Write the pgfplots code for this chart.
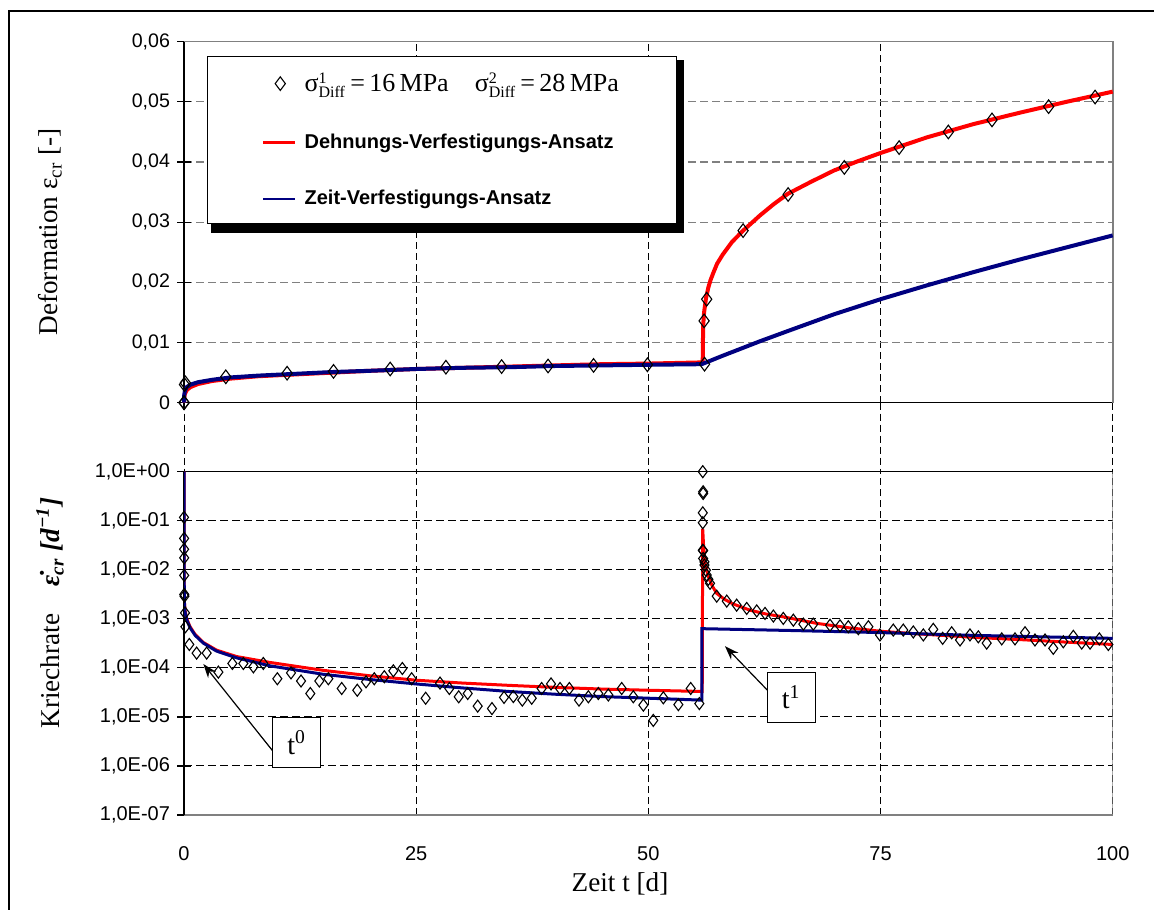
\documentclass[border=0pt]{standalone}
\usepackage{fontspec}
\setmainfont{Liberation Serif}
\newfontfamily\arial{Liberation Sans}
\usepackage{pgfplots}
\pgfplotsset{compat=1.18}
\usetikzlibrary{arrows.meta}

\definecolor{cred}{RGB}{255,0,0}
\definecolor{cblue}{RGB}{0,0,128}

\tikzset{gridx/.style={black, line width=0.5pt, dash pattern=on 3.5pt off 2pt}}
\pgfplotsset{
  mydiam/.style={only marks, mark=diamond, mark size=3.4pt, mark options={black, line width=0.55pt, fill=none, solid}},
  lineleg/.style={legend image code/.code={\draw[##1, line width=1.4pt] (0pt,0pt) -- (16pt,0pt);}},
}

\begin{document}
\begin{tikzpicture}
\useasboundingbox (0,0) rectangle (577pt,454.5pt);
\draw[line width=1.1pt] (4.35pt,-5pt) -- (4.35pt,449.15pt) -- (590pt,449.15pt);

% ---------------- top axis ----------------
\begin{axis}[
  at={(92pt,253.15pt)}, anchor=south west,
  scale only axis, width=464.35pt, height=180.5pt,
  xmin=0, xmax=100, ymin=0, ymax=0.06,
  clip=false,
  scaled y ticks=false,
  axis lines*=left,
  axis line style={black, line width=0.8pt},
  xtick={0,25,50,75,100}, xticklabels={},
  ytick={0,0.01,0.02,0.03,0.04,0.05,0.06},
  yticklabels={0,{0,01},{0,02},{0,03},{0,04},{0,05},{0,06}},
  yticklabel style={font=\arial\fontsize{9.8}{11}\selectfont},
  tick align=center, major tick length=7pt,
  tick style={black, line width=0.6pt},
  grid=major,
  x grid style={black, line width=0.5pt, dash pattern=on 3.5pt off 2pt},
  y grid style={gray, line width=0.6pt, dash pattern=on 4pt off 2pt},
  every axis y label/.style={at={(axis description cs:-0.1443,0.473)}, rotate=90, anchor=center},
  ylabel={\fontsize{13.6}{16}\selectfont Deformation ε\textsubscript{cr} [-]},
  legend style={at={(axis description cs:0.0251,0.9604)}, anchor=north west,
    draw=black, line width=0.5pt, fill=white,
    inner xsep=27pt, inner ysep=6pt, row sep=15.5pt, column sep=2pt,
    font=\arial\bfseries\fontsize{10}{12}\selectfont},
  legend cell align=left,
]
\draw[gray, line width=0.8pt] (rel axis cs:0,1) -- (rel axis cs:1,1) -- (rel axis cs:1,0);
\pgfplotsinvokeforeach{0,25,50,75,100}{\draw[gridx] (axis cs:#1,0) -- (axis cs:#1,-0.01147);}
% legend shadow
\fill[black] (axis description cs:0.0291,0.9493) rectangle (axis description cs:0.5384,0.4701);

\addplot[mydiam] coordinates {
(0,0) (0.02,0) (0.05,0.0030) (0.15,0.0033) (4.5,0.0043) (11.1,0.0049) (16.1,0.0052)
(22.2,0.0056) (28.2,0.0059) (34.2,0.0060) (39.2,0.0061) (44.1,0.0062) (49.9,0.0063)
(56.05,0.0064) (56.0,0.0136) (56.28,0.0172) (60.2,0.0286) (65.05,0.0346) (71.1,0.0391)
(77.0,0.0424) (82.3,0.0450) (87.0,0.0470) (93.1,0.0492) (98.1,0.0508)
};
\addlegendentry{\rmfamily\mdseries\fontsize{13}{15}\selectfont σ$^{\mbox{\fontsize{8}{8}\selectfont 1}}_{\mbox{\fontsize{8}{8}\selectfont Diff}}$\,=\,16\,MPa\quad σ$^{\mbox{\fontsize{8}{8}\selectfont 2}}_{\mbox{\fontsize{8}{8}\selectfont Diff}}$\,=\,28\,MPa}

\addplot[cred, line width=2pt, lineleg] coordinates {
(0,0) (0.02,0.0008) (0.1,0.0015) (0.3,0.0021) (0.7,0.0026) (1.5,0.0031) (3,0.0036)
(5,0.0040) (8,0.0044) (12,0.0047) (16,0.0050) (20,0.0053) (25,0.0056) (30,0.0058)
(35,0.0060) (40,0.0062) (45,0.0064) (50,0.0065) (55.85,0.0067) (55.9,0.0128)
(56.0,0.0150) (56.2,0.0173) (56.45,0.0191) (56.7,0.0204) (57.0,0.0216) (57.4,0.0231)
(58,0.0246) (59,0.0267) (60.2,0.0286) (61,0.0297) (62,0.0311) (63.5,0.0330)
(65,0.0347) (67.5,0.0367) (70,0.0386) (72.5,0.0401) (75,0.0415) (80,0.0441)
(85,0.0463) (90,0.0482) (95,0.0500) (100,0.0517)
};
\addlegendentry{Dehnungs-Verfestigungs-Ansatz}

\addplot[cblue, line width=2pt, lineleg] coordinates {
(0,0) (0.02,0.0012) (0.1,0.0020) (0.3,0.0026) (0.7,0.0030) (1.5,0.0034) (3,0.0038)
(5,0.0042) (8,0.0045) (12,0.0048) (16,0.0051) (20,0.0053) (25,0.0056) (30,0.0058)
(35,0.0059) (40,0.0061) (45,0.0062) (50,0.0063) (55.75,0.0064) (58,0.0078)
(60,0.0090) (62,0.0102) (65,0.0119) (70,0.0147) (75,0.0172) (80,0.0195)
(85,0.0217) (90,0.0238) (95,0.0258) (100,0.0278)
};
\addlegendentry{Zeit-Verfestigungs-Ansatz}
\end{axis}

% ---------------- bottom axis ----------------
\begin{axis}[
  at={(92pt,47pt)}, anchor=south west,
  scale only axis, width=464.35pt, height=171.65pt,
  xmin=0, xmax=100, ymode=log, ymin=1e-7, ymax=1,
  axis lines*=left,
  x axis line style={gray, line width=0.8pt},
  y axis line style={black, line width=0.8pt},
  xtick={0,25,50,75,100},
  xticklabels={0,25,50,75,100},
  xtick style={draw=none},
  xticklabel style={font=\arial\fontsize{10}{12}\selectfont, anchor=center, yshift=-16pt},
  ytick={1,1e-1,1e-2,1e-3,1e-4,1e-5,1e-6,1e-7},
  yticklabels={{1,0E+00},{1,0E-01},{1,0E-02},{1,0E-03},{1,0E-04},{1,0E-05},{1,0E-06},{1,0E-07}},
  yticklabel style={font=\arial\fontsize{10}{12}\selectfont},
  minor ytick={},
  tick align=center, major tick length=7pt,
  ytick style={black, line width=0.6pt},
  grid=major,
  x grid style={black, line width=0.5pt, dash pattern=on 3.5pt off 2pt},
  y grid style={black, line width=0.5pt, dash pattern=on 4pt off 2pt},
  every axis y label/.style={at={(axis description cs:-0.1443,0.588)}, rotate=90, anchor=center},
  ylabel={\fontsize{13.6}{16}\selectfont Kriechrate\quad\textbf{\textit{\.{ε}\textsubscript{cr} [d\textsuperscript{−1}]}}},
  every axis x label/.style={at={(axis description cs:0.4695,-0.201)}, anchor=center},
  xlabel={\fontsize{13.6}{16}\selectfont Zeit t [d]},
]
\draw[black, line width=0.8pt] (rel axis cs:0,1) -- (rel axis cs:1,1);
\draw[gray, line width=0.8pt] (rel axis cs:1,0) -- (rel axis cs:1,1);

\addplot[cred, line width=1.5pt] coordinates {
(0,1) (0.03,2.4e-3) (0.11,1.5e-3) (0.3,1.0e-3) (0.65,6.9e-4) (1.2,4.8e-4) (2.08,3.3e-4)
(3.5,2.3e-4) (5.67,1.7e-4) (9.26,1.29e-4) (15,8.9e-5) (20,6.9e-5) (25,5.6e-5)
(30,4.9e-5) (35,4.4e-5) (40,4.0e-5) (45,3.7e-5) (50,3.5e-5) (55.8,3.3e-5)
(55.85,0.069) (55.95,0.03) (56.1,0.014) (56.3,9.5e-3) (56.46,7.2e-3) (56.9,4.6e-3)
(57.36,3.3e-3) (58.2,2.5e-3) (59.15,2.0e-3) (60.95,1.5e-3) (62.7,1.25e-3)
(64.5,1.1e-3) (68.1,8.1e-4) (71.5,6.6e-4) (74.9,5.6e-4) (78.5,5.0e-4) (82.5,4.5e-4)
(86,4.1e-4) (89.7,3.8e-4) (95,3.35e-4) (100,3.0e-4)
};
\addplot[cblue, line width=1.5pt] coordinates {
(0,1) (0.03,2.4e-3) (0.11,1.4e-3) (0.3,9.5e-4) (0.65,6.6e-4) (1.2,4.6e-4) (2.08,3.2e-4)
(3.5,2.2e-4) (5.67,1.6e-4) (9.26,1.1e-4) (15,7.4e-5) (20,5.8e-5) (25,4.7e-5)
(30,3.9e-5) (35,3.3e-5) (40,2.9e-5) (45,2.6e-5) (50.2,2.4e-5) (55.75,2.2e-5)
(55.76,6.3e-4) (65,5.8e-4) (74.9,5.25e-4) (85,4.6e-4) (100,4.0e-4)
};
\addplot[mydiam, mark size=3pt] coordinates {
(0.0,0.117) (0.01,0.0437) (0.01,0.0262) (0.02,0.0175) (0.02,7.7e-3) (0.03,3.15e-3)
(0.05,2.9e-3) (0.11,1.32e-3) (0.15,6.9e-4) (0.57,3.0e-4) (1.36,2.0e-4) (2.44,2.0e-4)
(3.70,8.2e-5) (5.21,1.23e-4) (6.39,1.23e-4) (7.47,1.05e-4) (8.54,1.23e-4)
(10.05,6.0e-5) (11.52,7.9e-5) (12.60,5.4e-5) (13.60,3.0e-5) (14.57,5.4e-5)
(15.54,6.0e-5) (16.98,3.8e-5) (18.66,3.5e-5) (19.60,5.2e-5) (20.49,6.0e-5)
(21.57,6.6e-5) (22.54,8.7e-5) (23.51,9.7e-5) (24.51,6.0e-5) (26.02,2.4e-5)
(27.57,4.9e-5) (28.57,3.8e-5) (29.58,2.57e-5) (30.55,3.0e-5) (31.62,1.66e-5)
(33.16,1.48e-5) (34.46,2.5e-5) (35.46,2.6e-5) (36.43,2.2e-5) (37.44,2.4e-5)
(38.51,3.8e-5) (39.52,4.7e-5) (40.49,3.8e-5) (41.49,3.8e-5) (42.53,2.2e-5)
(43.54,2.57e-5) (44.61,3.0e-5) (45.69,2.8e-5) (47.13,3.8e-5) (48.38,2.57e-5)
(49.46,1.74e-5) (50.53,8.5e-6) (51.61,2.45e-5) (53.23,1.78e-5) (54.56,3.8e-5)
(55.49,1.87e-5)
(55.86,1.0) (55.9,0.39) (55.9,0.36) (55.86,0.145) (55.86,0.091) (55.86,0.025)
(55.9,0.0245) (55.9,0.017) (56.04,0.0145) (56.04,0.0125) (56.2,9.8e-3) (56.28,7.8e-3)
(56.46,6.4e-3) (56.64,5.3e-3) (57.36,2.9e-3) (58.44,2.3e-3) (59.51,1.9e-3)
(60.59,1.63e-3) (61.67,1.45e-3) (62.56,1.29e-3) (63.46,1.14e-3) (64.53,1.02e-3)
(65.61,9.4e-4) (66.69,7.8e-4) (67.76,7.8e-4) (69.56,7.4e-4) (70.64,7.2e-4)
(71.53,6.9e-4) (72.61,6.3e-4) (73.69,6.9e-4) (74.94,4.7e-4) (76.37,5.9e-4)
(77.45,5.9e-4) (78.53,5.4e-4) (79.61,4.7e-4) (80.68,6.1e-4) (81.69,4.0e-4)
(82.66,5.2e-4) (83.56,3.7e-4) (84.63,4.7e-4) (85.53,4.3e-4) (86.43,3.2e-4)
(88.05,3.9e-4) (89.48,3.9e-4) (90.56,5.2e-4) (91.63,3.7e-4) (92.71,3.7e-4)
(93.60,2.5e-4) (94.68,3.4e-4) (95.76,4.4e-4) (96.66,3.2e-4) (97.56,3.2e-4)
(98.56,3.9e-4) (99.53,3.0e-4)
};

\draw[-{Stealth[length=7pt,width=5pt]}, line width=0.6pt] (axis cs:9.55,2.03e-6) -- (axis cs:2.08,1.2e-4);
\node[draw, line width=0.6pt, fill=white, minimum width=24pt, minimum height=25pt, inner sep=0pt,
  font=\fontsize{14}{16}\selectfont] at (axis cs:12.14,3.0e-6) {t\textsuperscript{0}};
\draw[-{Stealth[length=7pt,width=5pt]}, line width=0.6pt] (axis cs:62.92,3.35e-5) -- (axis cs:58.25,2.77e-4);
\node[draw, line width=0.6pt, fill=white, minimum width=24pt, minimum height=25pt, inner sep=0pt,
  font=\fontsize{14}{16}\selectfont] at (axis cs:65.38,2.5e-5) {t\textsuperscript{1}};
\end{axis}
\end{tikzpicture}
\end{document}
